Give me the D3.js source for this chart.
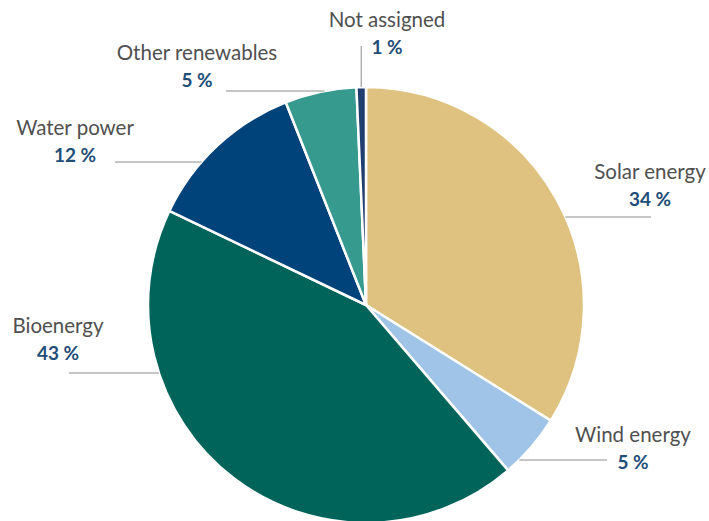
<!DOCTYPE html>
<html><head><meta charset="utf-8">
<script src="https://cdn.jsdelivr.net/npm/d3@7"></script>
<style>
html,body{margin:0;padding:0;background:#fff;}
svg{display:block;}
text{font-family:Lato,"Open Sans",sans-serif;}
</style></head>
<body><svg id="c" width="709" height="521"></svg>
<script>
const categories = ["Solar energy","Wind energy","Bioenergy","Water power","Other renewables","Not assigned"];
const values = [33.9, 4.8, 43.4, 11.9, 5.3, 0.7];
const pctLabels = ["34 %","5 %","43 %","12 %","5 %","1 %"];
const colors = ["#DFC27F","#9FC4E7","#00645B","#00427A","#379A8F","#1F3D6E"];
// label layout: text centre x, name baseline y, leader line y (or vertical for null)
const labelX = [650, 633, 58, 75, 197, 387];
const labelY = [179, 442, 333, 135, 60, 27];
const lineY = [217, 460, 373, 162, 91, null];
const lineEnd = [651, 607, 69, 115, 226, 46];

const W=709,H=521, cx=366, cy=305, r=218;
const svg=d3.select("#c");
const g=svg.append("g").attr("transform",`translate(${cx},${cy})`);
const pie=d3.pie().sort(null).value(d=>d)(values);
const arc=d3.arc().innerRadius(0).outerRadius(r);
g.selectAll("path").data(pie).join("path")
 .attr("d",arc).attr("fill",(d,i)=>colors[i])
 .attr("stroke","#fff").attr("stroke-width",2.5).attr("stroke-linejoin","round");

pie.forEach((d,i)=>{
  if(lineY[i]===null){
    const a=(d.startAngle+d.endAngle)/2;
    const x=cx+r*Math.sin(a);
    const ye=cy-r*Math.cos(a);
    svg.append("line").attr("x1",x).attr("x2",x).attr("y1",lineEnd[i]).attr("y2",ye)
      .attr("stroke","#8c8c8c").attr("stroke-width",1);
  } else {
    const y=lineY[i];
    const dx=Math.sqrt(r*r-(y-cy)*(y-cy));
    const a=(d.startAngle+d.endAngle)/2;
    const xe = Math.sin(a)>=0 ? cx+dx : cx-dx;
    svg.append("line").attr("x1",lineEnd[i]).attr("x2",xe).attr("y1",y).attr("y2",y)
      .attr("stroke","#8c8c8c").attr("stroke-width",1);
  }
});

categories.forEach((c,i)=>{
  svg.append("text").attr("x",labelX[i]).attr("y",labelY[i]).attr("text-anchor","middle")
    .attr("font-size",20.5).attr("fill","#505050").text(c);
  svg.append("text").attr("x",labelX[i]).attr("y",labelY[i]+27).attr("text-anchor","middle")
    .attr("font-size",19).attr("font-weight","bold").attr("fill","#1F4E79").text(pctLabels[i]);
});
</script></body></html>
